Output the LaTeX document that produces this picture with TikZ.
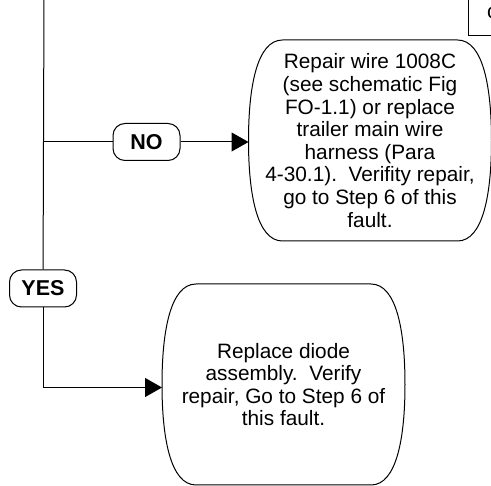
\documentclass[tikz,border=0pt]{standalone}
\usepackage{fontspec}
\setmainfont{Liberation Sans}
\usetikzlibrary{arrows,arrows.meta,positioning}

% outline of an action box: flat top and bottom, bulging sides
\newcommand{\bulgeoutline}[1]{%
  \draw ([xshift=34pt]#1.north west) -- ([xshift=-34pt]#1.north east)
    .. controls ([xshift=-8pt]#1.north east) and ([yshift=52pt]#1.east) .. (#1.east)
    .. controls ([yshift=-52pt]#1.east) and ([xshift=-8pt]#1.south east) .. ([xshift=-34pt]#1.south east)
    -- ([xshift=34pt]#1.south west)
    .. controls ([xshift=8pt]#1.south west) and ([yshift=-52pt]#1.west) .. (#1.west)
    .. controls ([yshift=52pt]#1.west) and ([xshift=8pt]#1.north west) .. cycle;}

\begin{document}
\begin{tikzpicture}[x=1pt,y=-1pt,line width=1pt,
  answer/.style={draw,rounded corners=12pt,minimum width=67pt,minimum height=37pt,inner sep=0pt,
    font=\fontsize{21.5}{24}\selectfont\bfseries},
  action/.style={minimum width=242pt,minimum height=200pt,inner sep=0pt,align=center,
    font=\fontsize{20.8}{22.6}\selectfont},
  tip/.style={-{Triangle[length=17pt,width=19pt]}}]
\clip (0,0) rectangle (491,486);

\node (rep1) [action] at (370,140.5) {Repair wire 1008C\\(see schematic Fig\\FO-1.1) or replace\\trailer main wire\\harness (Para\\4-30.1).\ \ Verifity repair,\\go to Step 6 of this\\fault.};
\node (rep2) [action] at (283.5,384.5) {Replace diode\\assembly.\ \ Verify\\repair, Go to Step 6 of\\this fault.};
\bulgeoutline{rep1}
\bulgeoutline{rep2}

\node (no) [answer] at (146.5,142) {NO};
\node (yes) [answer] at (43,288.5) {YES};

% box above, cut off at the edge
\node (prev) [draw,anchor=north west,minimum width=60pt,minimum height=50pt] at (468,-15) {};
\node (prevtext) [anchor=base west,inner sep=0pt,font=\fontsize{20.8}{22.6}\selectfont] at (486.5,19) {c};

\coordinate (top) at (44,-5);
\coordinate (split) at (44,142);

\draw (top) -- (yes);
\draw (split) -- (no);
\draw[tip] (no) -- (no -| rep1.west);
\draw[tip] (yes) |- ([yshift=-3pt]rep2.west);
\end{tikzpicture}
\end{document}
